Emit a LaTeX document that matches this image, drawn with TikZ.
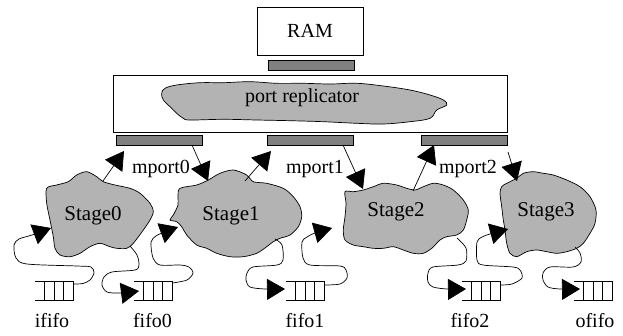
\documentclass[tikz,border=0pt]{standalone}
\usepackage{fontspec}
\setmainfont{Liberation Serif}
\usetikzlibrary{arrows.meta}
\definecolor{bargray}{RGB}{128,128,128}
\definecolor{blobgray}{RGB}{179,179,179}
\begin{document}
\begin{tikzpicture}[x=1pt,y=-1pt,
  lbl/.style={font=\fontsize{20}{24}\selectfont, inner sep=0pt},
  stlbl/.style={font=\fontsize{21}{25}\selectfont, inner sep=0pt},
  box/.style={draw=black, line width=0.8pt, inner sep=0pt},
  bar/.style={draw=black, fill=bargray, line width=0.6pt, inner sep=0pt, minimum width=86pt, minimum height=10pt},
  blob/.style={draw=black, fill=blobgray, line width=0.7pt},
  conn/.style={draw=black, line width=0.7pt, -{Triangle[length=18pt,width=21pt]}},
  fifoline/.style={draw=black, line width=0.8pt}
]
\useasboundingbox (0,0) rectangle (623,335);

% RAM and port replicator
\node[box, minimum width=106pt, minimum height=48pt] (ram) at (310,31) {};
\node[lbl] at (310,31) {RAM};
\node[bar] (ramport) at (311,65) {};
\node[box, minimum width=394pt, minimum height=57pt] (repl) at (310,103.5) {};
\draw[blob] plot[smooth cycle, tension=0.6] coordinates {
 (161.7,93.3) (165,88.3) (176.7,85) (200,82.7) (223.3,82.7) (250,81.7) (276.7,83.3)
 (303.3,83.3) (330,84) (356.7,83.3) (383.3,86) (410,90) (430,95) (443.3,100)
 (446.7,105) (436.7,110) (430,118.3) (410,121.7) (383.3,124) (356.7,123.3)
 (323.3,121.7) (290,120.7) (256.7,120) (223.3,119.3) (190,120) (183.3,118.3)
 (176.7,113.3) (170,106.7) (163.3,100)};
\node[lbl] (repltext) at (302,98) {port replicator};

% memory ports
\node[bar] (bar0) at (159,140) {};
\node[bar] (bar1) at (310,140) {};
\node[bar] (bar2) at (464,140) {};
\node[lbl, anchor=base] (mp0) at (161,173) {mport0};
\node[lbl, anchor=base] (mp1) at (315,173) {mport1};
\node[lbl, anchor=base] (mp2) at (468,173) {mport2};

% stages
\draw[blob] plot[smooth cycle, tension=0.5] coordinates {
 (46.7,188.3) (56.7,185) (68.3,181.7) (76.7,175) (86.7,171.7) (96.7,176.7) (103.3,181.7)
 (115,185) (130,188.3) (140,193.3) (150,203.3) (153.3,211.7) (150,220) (143.3,230)
 (133.3,243.3) (126.7,248.3) (116.7,248.3) (110,246.7) (100,243.3) (90,246.7)
 (80,253.3) (70,256.7) (60,255) (55,248.3) (53.3,236.7) (50,220) (46.7,203.3)};
\node[stlbl] (st0) at (93,216) {Stage0};

\draw[blob] plot[smooth cycle, tension=0.5] coordinates {
 (180,188.3) (196.7,185) (208.3,180) (220,173.3) (233.3,170) (246.7,175) (253.3,181.7)
 (266.7,183.3) (283.3,188.3) (293.3,196.7) (300,206.7) (301.7,216.7) (298.3,226.7)
 (290,235) (280,238.3) (273.3,241.7) (266.7,246.7) (256.7,253.3) (243.3,256.7)
 (230,256.7) (216.7,253.3) (206.7,248.3) (196.7,245) (186.7,235) (181.7,226.7)
 (176.7,221.7) (170,220) (173.3,215) (178,205) (178,196.7)};
\node[stlbl] (st1) at (231,216) {Stage1};

\draw[blob] plot[smooth cycle, tension=0.5] coordinates {
 (345,191.7) (353.3,191.7) (363.3,190) (373.3,186.7) (383.3,183.3) (396.7,185)
 (406.7,188.3) (415,190) (423.3,186.7) (433.3,183.3) (443.3,185) (453.3,190)
 (463.3,200) (468.3,210) (466.7,220) (463.3,230) (456.7,235) (446.7,236.7) (440,240)
 (431.7,248.3) (423.3,253.3) (413.3,253.3) (403.3,250) (393.3,246.7) (383.3,248.3)
 (373.3,248.3) (363.3,246.7) (353.3,245) (345,240) (343.3,230) (345,216.7) (346,203.3)};
\node[stlbl] (st2) at (396,212) {Stage2};

\draw[blob] plot[smooth cycle, tension=0.5] coordinates {
 (501.7,186.7) (506.7,183.3) (516.7,178.3) (523.3,173.3) (533.3,171.7) (543.3,173.3)
 (553.3,175) (566.7,180) (580,186.7) (590,196.7) (596,210) (595,223.3) (590,233.3)
 (583.3,243.3) (576.7,248.3) (566.7,251.7) (556.7,253.3) (546.7,251.7) (536.7,250)
 (526.7,251.7) (516.7,256.7) (510,253.3) (506.7,243.3) (505,230) (503.3,220)
 (501.7,206.7) (500,193.3)};
\node[stlbl] (st3) at (546,212) {Stage3};

% stage <-> port arrows
\coordinate (s0up) at (103,181);   \coordinate (b0in) at (124,151);
\coordinate (b0out) at (192,145);  \coordinate (s1in) at (208,181);
\coordinate (s1up) at (245,181);   \coordinate (b1in) at (271,151);
\coordinate (b1out) at (343,145);  \coordinate (s2in) at (363,189);
\coordinate (s2up) at (413,191);   \coordinate (b2in) at (434,145);
\coordinate (b2out) at (508,152);  \coordinate (s3in) at (517,181);
\draw[conn] (s0up) -- (b0in);
\draw[conn] (b0out) -- (s1in);
\draw[conn] (s1up) -- (b1in);
\draw[conn] (b1out) -- (s2in);
\draw[conn] (s2up) -- (b2in);
\draw[conn] (b2out) -- (s3in);

% fifos
\foreach \x/\nm in {35/ififo,134/fifo0,286/fifo1,462/fifo2,574/ofifo}{
  \draw[fifoline] (\x,281) -- ++(38.5,0) -- ++(0,19) -- ++(-38.5,0);
  \draw[fifoline] (\x+9.5,281) -- ++(0,19) (\x+19,281) -- ++(0,19) (\x+28.5,281) -- ++(0,19);
}
\node[lbl, anchor=base] (lififo) at (52,327) {ififo};
\node[lbl, anchor=base] (lfifo0) at (152.5,327) {fifo0};
\node[lbl, anchor=base] (lfifo1) at (305,327) {fifo1};
\node[lbl, anchor=base] (lfifo2) at (470,327) {fifo2};
\node[lbl, anchor=base] (lofifo) at (595,327) {ofifo};

% wavy connectors
\draw[conn] plot[smooth, tension=0.5] coordinates {(73.5,284) (83,283.5) (90,280) (94,273) (91,267) (77,266) (27,264) (16,258) (14,245) (19,239) (32,235) (51,228)};
\draw[conn] plot[smooth, tension=0.5] coordinates {(130,246) (137,255) (139,265) (135,270) (112,272) (104,277) (102,285) (107,292) (120,293) (139,291)};
\draw[conn] plot[smooth, tension=0.5] coordinates {(172.5,283) (187,280) (193,273) (189,267) (180,265) (160,265) (153,258) (151,242) (156,236) (162,233) (178,227)};
\draw[conn] plot[smooth, tension=0.5] coordinates {(275,239) (282,245) (283,260) (277,265) (253,267) (247,273) (246,280) (250,287) (265,289) (285,289)};
\draw[conn] plot[smooth, tension=0.5] coordinates {(324.5,285) (340,284) (347,278) (346,270) (340,266) (310,265) (303,258) (302,242) (307,237) (315,233) (332,228)};
\draw[conn] plot[smooth, tension=0.5] coordinates {(457,238) (466,248) (466,261) (458,265) (433,267) (428,273) (428,282) (433,287) (447,289) (466,289)};
\draw[conn] plot[smooth, tension=0.5] coordinates {(500.5,285) (512,284) (522,278) (520,270) (513,267) (483,265) (477,260) (477,242) (482,237) (490,234) (508,229)};
\draw[conn] plot[smooth, tension=0.5] coordinates {(575,247) (580,253) (581,262) (573,267) (550,267) (543,273) (543,280) (548,287) (560,289) (580,289)};
\end{tikzpicture}
\end{document}
